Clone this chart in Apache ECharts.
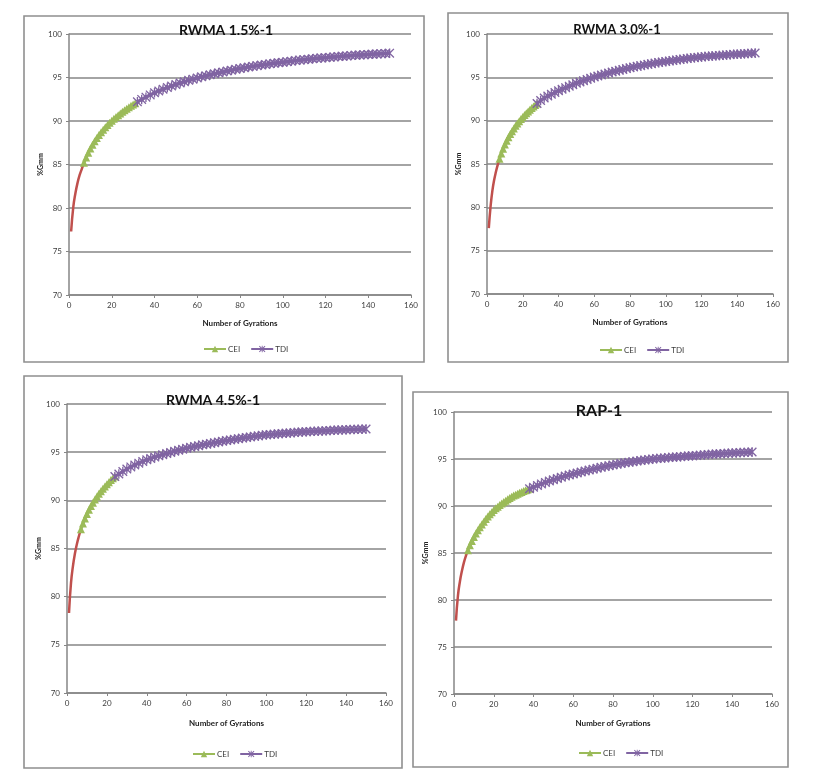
<!DOCTYPE html>
<html><head><meta charset="utf-8">
<script src="https://cdn.jsdelivr.net/npm/echarts/dist/echarts.min.js"></script>
<style>html,body{margin:0;padding:0;background:#fff}#c{width:822px;height:777px}</style>
</head><body><div id="c"></div><script>
// ---------- DATA ----------
const titles = ['RWMA 1.5%-1', 'RWMA 3.0%-1', 'RWMA 4.5%-1', 'RAP-1'];
const xTicks = [0, 20, 40, 60, 80, 100, 120, 140, 160];
const yTicks = [70, 75, 80, 85, 90, 95, 100];
const legendNames = ['CEI', 'TDI'];

// RWMA 1.5%-1
const rwma15_red = [[1,77.3],[2,80.1],[3,81.7],[4,82.9],[5,83.8],[6,84.5],[7,85.2]];
const rwma15_cei = [[7,85.20],[8,85.81],[9,86.35],[10,86.84],[11,87.28],[12,87.68],[13,88.05],[14,88.39],[15,88.71],[16,89.00],[17,89.28],[18,89.54],[19,89.79],[20,90.03],[21,90.26],[22,90.47],[23,90.67],[24,90.87],[25,91.06],[26,91.24],[27,91.41],[28,91.58],[29,91.74],[30,91.89],[31,92.04]];
const rwma15_tdi = [[32,92.20],[34,92.48],[36,92.74],[38,93.00],[40,93.25],[42,93.45],[44,93.65],[46,93.84],[48,94.02],[50,94.20],[52,94.36],[54,94.52],[56,94.67],[58,94.81],[60,94.95],[62,95.08],[64,95.20],[66,95.32],[68,95.43],[70,95.54],[72,95.64],[74,95.74],[76,95.84],[78,95.94],[80,96.03],[82,96.12],[84,96.20],[86,96.28],[88,96.36],[90,96.43],[92,96.50],[94,96.57],[96,96.64],[98,96.70],[100,96.76],[102,96.82],[104,96.88],[106,96.94],[108,97.00],[110,97.05],[112,97.10],[114,97.15],[116,97.20],[118,97.24],[120,97.28],[122,97.32],[124,97.36],[126,97.40],[128,97.44],[130,97.48],[132,97.52],[134,97.55],[136,97.59],[138,97.62],[140,97.65],[142,97.68],[144,97.71],[146,97.74],[148,97.77],[150,97.80]];

// RWMA 3.0%-1
const rwma30_red = [[1,77.6],[2,80.1],[3,81.9],[4,83.15],[5,84.1],[6,84.9],[7,85.6]];
const rwma30_cei = [[7,85.60],[8,86.21],[9,86.75],[10,87.24],[11,87.68],[12,88.08],[13,88.45],[14,88.79],[15,89.11],[16,89.40],[17,89.68],[18,89.94],[19,90.19],[20,90.43],[21,90.66],[22,90.87],[23,91.07],[24,91.27],[25,91.46],[26,91.64],[27,91.81],[28,91.98]];
const rwma30_tdi = [[28,91.98],[30,92.32],[32,92.62],[34,92.84],[36,93.05],[38,93.25],[40,93.45],[42,93.63],[44,93.81],[46,93.98],[48,94.15],[50,94.32],[52,94.47],[54,94.62],[56,94.76],[58,94.90],[60,95.03],[62,95.15],[64,95.27],[66,95.39],[68,95.50],[70,95.61],[72,95.71],[74,95.81],[76,95.91],[78,96.01],[80,96.10],[82,96.19],[84,96.27],[86,96.35],[88,96.43],[90,96.50],[92,96.57],[94,96.64],[96,96.71],[98,96.77],[100,96.83],[102,96.89],[104,96.95],[106,97.01],[108,97.07],[110,97.12],[112,97.17],[114,97.22],[116,97.27],[118,97.31],[120,97.35],[122,97.39],[124,97.42],[126,97.46],[128,97.49],[130,97.53],[132,97.56],[134,97.59],[136,97.62],[138,97.65],[140,97.67],[142,97.70],[144,97.72],[146,97.75],[148,97.77],[150,97.80]];

// RWMA 4.5%-1
const rwma45_red = [[1,78.3],[2,81.4],[3,83.2],[4,84.5],[5,85.5],[6,86.3],[7,87.0]];
const rwma45_cei = [[7,87.00],[8,87.59],[9,88.12],[10,88.59],[11,89.01],[12,89.40],[13,89.75],[14,90.08],[15,90.39],[16,90.68],[17,90.95],[18,91.20],[19,91.44],[20,91.67],[21,91.89],[22,92.10],[23,92.29],[24,92.48]];
const rwma45_tdi = [[24,92.48],[26,92.74],[28,93.00],[30,93.25],[32,93.47],[34,93.67],[36,93.86],[38,94.04],[40,94.20],[42,94.35],[44,94.49],[46,94.62],[48,94.74],[50,94.85],[52,94.97],[54,95.09],[56,95.20],[58,95.30],[60,95.40],[62,95.50],[64,95.59],[66,95.67],[68,95.76],[70,95.83],[72,95.91],[74,95.99],[76,96.06],[78,96.13],[80,96.20],[82,96.27],[84,96.33],[86,96.40],[88,96.46],[90,96.52],[92,96.58],[94,96.64],[96,96.69],[98,96.75],[100,96.80],[102,96.84],[104,96.87],[106,96.91],[108,96.94],[110,96.97],[112,97.00],[114,97.03],[116,97.06],[118,97.09],[120,97.12],[122,97.14],[124,97.16],[126,97.18],[128,97.21],[130,97.23],[132,97.25],[134,97.27],[136,97.29],[138,97.31],[140,97.32],[142,97.34],[144,97.36],[146,97.37],[148,97.39],[150,97.40]];

// RAP-1
const rap_red = [[1,77.8],[2,80.5],[3,82.0],[4,83.1],[5,84.0],[6,84.7],[7,85.3]];
const rap_cei = [[7,85.30],[8,85.82],[9,86.28],[10,86.69],[11,87.08],[12,87.42],[13,87.73],[14,88.03],[15,88.33],[16,88.61],[17,88.87],[18,89.11],[19,89.34],[20,89.57],[21,89.76],[22,89.93],[23,90.10],[24,90.26],[25,90.42],[26,90.57],[27,90.71],[28,90.85],[29,90.98],[30,91.11],[31,91.21],[32,91.31],[33,91.41],[34,91.50],[35,91.59],[36,91.67],[37,91.76],[38,91.84]];
const rap_tdi = [[38,91.84],[40,92.00],[42,92.18],[44,92.35],[46,92.51],[48,92.66],[50,92.80],[52,92.93],[54,93.06],[56,93.18],[58,93.29],[60,93.40],[62,93.51],[64,93.62],[66,93.72],[68,93.82],[70,93.92],[72,94.02],[74,94.11],[76,94.20],[78,94.29],[80,94.37],[82,94.45],[84,94.52],[86,94.59],[88,94.65],[90,94.71],[92,94.78],[94,94.84],[96,94.90],[98,94.95],[100,95.00],[102,95.04],[104,95.08],[106,95.11],[108,95.15],[110,95.18],[112,95.22],[114,95.25],[116,95.29],[118,95.32],[120,95.35],[122,95.38],[124,95.41],[126,95.44],[128,95.47],[130,95.50],[132,95.53],[134,95.55],[136,95.58],[138,95.60],[140,95.63],[142,95.65],[144,95.68],[146,95.70],[148,95.73],[150,95.75]];

// ---------- LAYOUT / STYLE ----------
const FONT = 'Lato, "Liberation Sans", sans-serif';
const layout = [
  { data:[rwma15_red, rwma15_cei, rwma15_tdi], grid:{left:69,top:34,width:342,height:261}, tx:226, ty:23, tsize:14, font:FONT, lgLeft:203, lgTop:345, xGap:24, frame:[24,16,400,346] },
  { data:[rwma30_red, rwma30_cei, rwma30_tdi], grid:{left:487,top:34,width:286,height:260}, tx:617, ty:23, tsize:13, font:FONT, lgLeft:599, lgTop:346, xGap:24, frame:[448,13,340,349] },
  { data:[rwma45_red, rwma45_cei, rwma45_tdi], grid:{left:67,top:404,width:319,height:289}, tx:213, ty:393, tsize:14, font:FONT, lgLeft:192, lgTop:750, xGap:26, frame:[24,376,378,392] },
  { data:[rap_red, rap_cei, rap_tdi], grid:{left:454,top:412,width:318,height:282}, tx:599, ty:403, tsize:16, font:'"Liberation Sans Narrow", ' + FONT, lgLeft:578, lgTop:749, xGap:25, frame:[413,392,375,375] }
];

const GRAY = '#868686';
const TXT = '#3c3c3c';
const starPath = 'path://M1,0L5,4L9,0L10,1L6,5L10,9L9,10L5,6L1,10L0,9L4,5L0,1Z M4.3,0L5.7,0L5.7,10L4.3,10Z';

const option = {
  animation: false,
  backgroundColor: '#ffffff',
  textStyle: { fontFamily: FONT },
  title: [], legend: [], grid: [], xAxis: [], yAxis: [], series: [],
  graphic: []
};

layout.forEach((p, i) => {
  option.graphic.push({ type:'rect', shape:{ x:p.frame[0], y:p.frame[1], width:p.frame[2], height:p.frame[3] },
    style:{ fill:'none', stroke:'#8f8f8f', lineWidth:1.6 }, z:-1 });
  option.title.push({ text: titles[i], left: p.tx, top: p.ty, textAlign:'center', padding:0,
    textStyle:{ fontFamily:p.font, fontWeight:'bold', fontSize:p.tsize, color:'#111' } });
  option.grid.push(p.grid);
  option.xAxis.push({
    type:'value', gridIndex:i, min:xTicks[0], max:xTicks[xTicks.length-1], interval:xTicks[1]-xTicks[0],
    name:'Number of Gyrations', nameLocation:'middle', nameGap:p.xGap,
    nameTextStyle:{ fontFamily:p.font, fontWeight:'bold', fontSize:8, color:'#222' },
    axisLine:{ show:true, lineStyle:{ color:GRAY, width:1.5 } },
    axisTick:{ show:true, length:3, lineStyle:{ color:GRAY, width:1 } },
    axisLabel:{ fontFamily:p.font, fontSize:8, color:TXT, margin:6 },
    splitLine:{ show:false }
  });
  option.yAxis.push({
    type:'value', gridIndex:i, min:yTicks[0], max:yTicks[yTicks.length-1], interval:yTicks[1]-yTicks[0],
    name:'%Gmm', nameLocation:'middle', nameRotate:90, nameGap:18,
    nameTextStyle:{ fontFamily:p.font, fontWeight:'bold', fontSize:7, color:'#222' },
    axisLine:{ show:true, lineStyle:{ color:GRAY, width:1.5 } },
    axisTick:{ show:true, length:3, lineStyle:{ color:GRAY, width:1 } },
    axisLabel:{ fontFamily:p.font, fontSize:8, color:TXT, margin:7 },
    splitLine:{ show:true, lineStyle:{ color:GRAY, width:1.5 } }
  });
  option.legend.push({
    data: legendNames, left:p.lgLeft, top:p.lgTop, orient:'horizontal',
    itemWidth:22, itemHeight:8, itemGap:10, padding:0,
    textStyle:{ fontFamily:p.font, fontSize:8, color:TXT, padding:[0,0,0,-3] }
  });
  option.series.push({
    name:'Initial', type:'line', xAxisIndex:i, yAxisIndex:i, data:p.data[0],
    showSymbol:false, smooth:true, lineStyle:{ color:'#c0504d', width:2.5 }, itemStyle:{ color:'#c0504d' }, z:2
  });
  option.series.push({
    name:'CEI', type:'line', xAxisIndex:i, yAxisIndex:i, data:p.data[1],
    symbol:'triangle', symbolSize:8, showAllSymbol:true,
    lineStyle:{ color:'#9bbb59', width:3 }, itemStyle:{ color:'#9bbb59' }, z:3
  });
  option.series.push({
    name:'TDI', type:'line', xAxisIndex:i, yAxisIndex:i, data:p.data[2],
    symbol:starPath, symbolSize:9.5, showAllSymbol:true,
    lineStyle:{ color:'#8064a2', width:3 }, itemStyle:{ color:'#8064a2' }, z:4
  });
});

const chart = echarts.init(document.getElementById('c'), null, { renderer:'canvas' });
chart.setOption(option);
</script></body></html>
